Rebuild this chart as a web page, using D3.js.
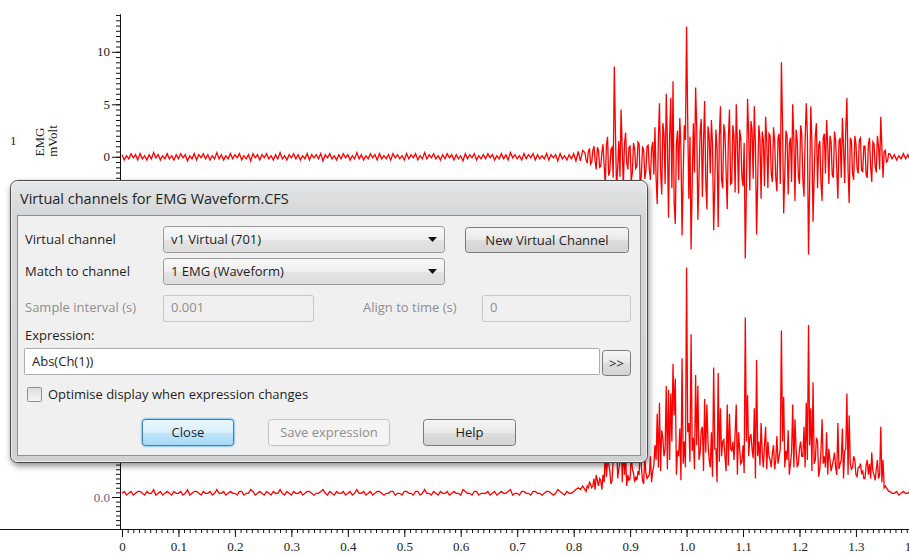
<!DOCTYPE html>
<html>
<head>
<meta charset="utf-8">
<script src="https://cdnjs.cloudflare.com/ajax/libs/d3/7.8.5/d3.min.js"></script>
<style>
  body { margin: 0; background: #ffffff; }
  svg { display: block; }
  .ui { font-family: 'Open Sans', 'Noto Sans', sans-serif; font-size: 13px; fill: #1e1e1e; }
  .ui.off { fill: #8e8e8e; }
</style>
</head>
<body>
<svg width="909" height="556"></svg>
<script>
//Global variables
const SVG_WIDTH = 909;
const SVG_HEIGHT = 556;

//channel 1 EMG, mV
//quiet part: one value every 4 ms from 0 s
var emgBaseline = [
  0.2,-0.3,0.1,-0.2,0.3,-0.1,0.2,-0.3,0.3,-0.2,0.1,-0.3,0.2,-0.2,0.4,-0.1,0.2,-0.3,0.1,-0.2,
  0.3,-0.2,0.1,-0.3,0.2,-0.2,0.3,-0.1,0.2,-0.4,0.1,-0.2,0.3,-0.3,0.2,-0.1,0.3,-0.2,0.2,-0.3,
  0.1,-0.2,0.4,-0.2,0.2,-0.3,0.1,-0.2,0.3,-0.2,0.2,-0.1,0.3,-0.3,0.1,-0.2,0.2,-0.4,0.3,-0.1,
  0.2,-0.3,0.2,-0.1,0.3,-0.2,0.1,-0.3,0.2,-0.2,0.4,-0.2,0.1,-0.3,0.2,-0.1,0.3,-0.2,0.2,-0.3,
  0.1,-0.2,0.3,-0.3,0.2,-0.1,0.2,-0.2,0.3,-0.4,0.2,-0.1,0.3,-0.2,0.1,-0.3,0.2,-0.2,0.3,-0.1,
  0.2,-0.3,0.1,-0.2,0.4,-0.2,0.2,-0.3,0.1,-0.2,0.3,-0.1,0.2,-0.3,0.3,-0.2,0.1,-0.2,0.2,-0.3,
  0.3,-0.1,0.2,-0.2,0.1,-0.3,0.3,-0.2,0.2,-0.1,0.3,-0.3,0.1,-0.2,0.4,-0.2,0.2,-0.1,0.3,-0.2,
  0.1,-0.3,0.2,-0.2,0.3,-0.1,0.2,-0.3,0.2,-0.2,0.1,-0.4,0.3,-0.2,0.2,-0.1,0.3,-0.3,0.1,-0.2,
  0.2,-0.2,0.3,-0.1,0.2,-0.3,0.1,-0.2,0.3,-0.2,0.2,-0.3,0.4,-0.1,0.2,-0.2,0.1,-0.3,0.3,-0.2,
  0.2,-0.1,0.3,-0.3,0.2,-0.2,0.1,-0.2,0.3,-0.3,0.2,-0.1,0.2,-0.4,0.3,-0.2,0.1,-0.3,0.2,-0.2,
  0.3,-0.4,0.5,-0.4,0.6
];
//the burst: one value every 2 ms from 0.820 s
var emgBurst = [
  0.4,-0.3,-0.6,0.5,0.8,-0.7,-0.5,0.6,1.0,-0.4,-1.2,0.9,0.6,-1.0,-0.9,0.4,1.2,-0.8,-2.6,1.1,
  1.9,-1.8,-1.4,0.7,0.9,-2.0,8.6,2.4,-3.2,-1.0,1.5,-1.9,4.5,0.8,-2.8,1.2,2.3,-0.6,-1.2,0.9,
  1.0,-2.3,-1.5,1.3,0.8,-1.1,-0.9,1.4,1.2,-3.0,-1.6,0.9,0.7,-2.1,-1.3,1.0,1.1,-1.2,-2.2,0.8,
  1.4,-1.7,2.8,-2.0,-4.5,1.6,5.1,-1.4,-3.6,3.2,2.2,-2.6,6.0,1.5,-5.8,2.0,5.6,-3.0,7.2,-4.4,
  -6.4,1.2,2.5,-2.2,3.7,0.9,-7.5,-1.8,3.0,1.6,12.4,3.5,-4.0,1.9,-8.8,-2.5,3.2,-1.5,6.6,2.8,
  -6.0,-2.0,2.4,3.6,-3.8,1.4,5.3,-2.4,-5.0,2.9,2.0,-1.6,3.5,1.1,-7.0,-2.6,2.6,0.8,-6.7,1.9,
  4.8,-2.2,-3.0,3.1,2.2,-1.4,-5.0,1.7,4.5,-2.6,-2.5,3.0,2.0,-3.4,5.0,1.2,-3.5,2.6,1.8,-1.9,
  -2.8,1.3,-9.7,-3.0,5.5,2.2,-3.2,3.4,2.6,-2.1,4.8,1.0,-7.4,-2.2,3.0,1.7,-4.0,2.4,1.6,-2.8,
  3.8,1.5,-3.0,2.2,2.0,-1.6,-2.4,2.8,1.5,-2.0,-3.3,1.8,2.2,-2.6,9.0,3.0,-5.4,-1.6,2.5,2.0,
  -3.6,1.2,1.8,-2.4,5.0,1.6,-4.2,2.6,1.6,-1.8,-2.6,3.0,2.2,-2.2,-3.8,1.6,5.1,2.0,-9.3,-2.8,
  4.8,1.4,-6.2,-1.8,2.0,3.2,-3.0,1.1,1.5,-2.4,-4.2,1.8,2.2,-1.6,3.5,1.2,-2.6,2.0,1.4,-1.7,
  -2.0,2.4,1.6,-1.2,-4.0,1.5,1.8,-2.0,3.7,1.0,-2.5,2.6,5.6,-1.2,-4.4,1.8,1.5,-1.6,-2.2,2.0,
  1.2,-1.1,-1.6,1.6,1.8,-1.3,-1.4,1.0,1.0,-1.7,-2.0,1.2,1.8,-1.0,-2.4,1.4,1.2,-0.9,-1.5,2.0,
  1.0,-1.2,3.8,0.8,-2.0,0.5,0.6,-0.5,-0.4,0.3
];
//quiet again: one value every 4 ms from 1.360 s
var emgTail = [0.3,-0.2,0.2,-0.3,0.1,-0.2,0.3,-0.2,0.2,-0.3,0.2];

//start time and step of each stretch
var emgStarts = [0, 0.820, 1.360];
var emgSteps = [0.004, 0.002, 0.004];

//tick labels
var timeTicks = [0, 0.1, 0.2, 0.3, 0.4, 0.5, 0.6, 0.7, 0.8, 0.9, 1.0, 1.1, 1.2, 1.3, 1.4];
var emgTicks = [0, 5, 10];
var virtualTicks = [0];

//build (time, value) samples
var emg = [];
[emgBaseline, emgBurst, emgTail].forEach(function(part, p) {
    part.forEach(function(v, k) {
        emg.push({t: emgStarts[p] + k * emgSteps[p], v: v});
    });
});
//virtual channel 701 = Abs(Ch(1)), the expression typed in the dialog
var virtual701 = emg.map(function(d) { return {t: d.t, v: Math.abs(d.v)}; });

var svg = d3.select('svg');

//scales
var x = d3.scaleLinear().domain([0, 1.4]).range([122, 912.4]);
var yTop = d3.scaleLinear().domain([-10.5, 13.6]).range([267, 14]);
var yBottom = d3.scaleLinear().domain([-1.73, 12.81]).range([529, 260]);

//axes
function styleAxis(g) {
    g.attr('font-family', "'Liberation Serif', 'Times New Roman', serif")
     .attr('font-size', 13);
    g.selectAll('path, line').attr('stroke', '#111');
    g.selectAll('text').attr('fill', '#222');
}

//minor ticks first, then the labelled ones on top
svg.append('g')
   .attr('transform', 'translate(120,0)')
   .call(d3.axisLeft(yTop).tickValues(d3.range(-10, 13.6, 0.5)).tickSize(4).tickSizeOuter(0).tickFormat(''))
   .call(styleAxis);
svg.append('g')
   .attr('transform', 'translate(120,0)')
   .call(d3.axisLeft(yTop).tickValues(emgTicks).tickSize(8).tickSizeOuter(0).tickPadding(2).tickFormat(d3.format('d')))
   .call(styleAxis);

svg.append('g')
   .attr('transform', 'translate(120,0)')
   .call(d3.axisLeft(yBottom).tickValues(d3.range(-1.5, 12.8, 0.25)).tickSize(4).tickSizeOuter(0).tickFormat(''))
   .call(styleAxis);
svg.append('g')
   .attr('transform', 'translate(120,0)')
   .call(d3.axisLeft(yBottom).tickValues(virtualTicks).tickSize(8).tickSizeOuter(0).tickPadding(2).tickFormat(d3.format('.1f')))
   .call(styleAxis)
   .selectAll('text').attr('fill', '#5b6678');

svg.append('g')
   .attr('transform', 'translate(0,529)')
   .call(d3.axisBottom(x).tickValues(d3.range(0, 1.405, 0.01)).tickSize(4).tickSizeOuter(0).tickFormat(''))
   .call(styleAxis)
   .select('.domain').attr('d', 'M-2,0.5H' + SVG_WIDTH);
svg.append('g')
   .attr('transform', 'translate(0,529)')
   .call(d3.axisBottom(x).tickValues(timeTicks).tickSize(8).tickSizeOuter(0).tickPadding(5)
           .tickFormat(function(d) { return d === 0 ? '0' : d3.format('.1f')(d); }))
   .call(styleAxis);

//channel titles
svg.append('text')
   .attr('x', 10).attr('y', 145)
   .attr('font-family', "'Liberation Serif', serif").attr('font-size', 13).attr('fill', '#222')
   .text('1');
svg.append('text')
   .attr('transform', 'translate(44,142) rotate(-90)')
   .attr('text-anchor', 'middle')
   .attr('font-family', "'Liberation Serif', serif").attr('font-size', 13).attr('fill', '#222')
   .text('EMG');
svg.append('text')
   .attr('transform', 'translate(57,141) rotate(-90)')
   .attr('text-anchor', 'middle')
   .attr('font-family', "'Liberation Serif', serif").attr('font-size', 13).attr('fill', '#222')
   .text('mVolt');

//the traces
var topLine = d3.line()
    .x(function(d) { return x(d.t); })
    .y(function(d) { return yTop(d.v); });
var bottomLine = d3.line()
    .x(function(d) { return x(d.t); })
    .y(function(d) { return yBottom(d.v); });

svg.append('path')
   .attr('d', topLine(emg))
   .attr('fill', 'none').attr('stroke', '#ff0000').attr('stroke-width', 1.3);
svg.append('path')
   .attr('d', bottomLine(virtual701))
   .attr('fill', 'none').attr('stroke', '#ff0000').attr('stroke-width', 1.3);

//----- the dialog on top -----
var defs = svg.append('defs');
function vGrad(id, stops) {
    var g = defs.append('linearGradient').attr('id', id)
                .attr('x1', 0).attr('y1', 0).attr('x2', 0).attr('y2', 1);
    stops.forEach(function(s) {
        g.append('stop').attr('offset', s[0]).attr('stop-color', s[1]);
    });
}
vGrad('frameGrad', [[0, '#e6e7e9'], [0.12, '#d4d6d8'], [1, '#d0d1d3']]);
vGrad('btnGrad', [[0, '#f6f6f6'], [0.5, '#e9e9e9'], [0.51, '#dddddd'], [1, '#d3d3d3']]);
vGrad('comboGrad', [[0, '#f8f8f8'], [0.5, '#efefef'], [0.51, '#e4e4e4'], [1, '#dcdcdc']]);
vGrad('closeGrad', [[0, '#eaf6fd'], [0.5, '#d9f0fc'], [0.51, '#bee6fd'], [1, '#a7d9f5']]);
vGrad('checkGrad', [[0, '#dcdcdc'], [1, '#f6f6f6']]);

var shadow = defs.append('filter').attr('id', 'shadow')
    .attr('x', '-5%').attr('y', '-5%').attr('width', '115%').attr('height', '120%');
shadow.append('feDropShadow')
    .attr('dx', 1).attr('dy', 3).attr('stdDeviation', 3)
    .attr('flood-color', '#000').attr('flood-opacity', 0.45);

var dlg = svg.append('g');

dlg.append('rect')
   .attr('x', 10.5).attr('y', 180.5).attr('width', 637).attr('height', 282).attr('rx', 7)
   .attr('fill', 'url(#frameGrad)').attr('stroke', '#4a4a4a').attr('filter', 'url(#shadow)');
dlg.append('rect')
   .attr('x', 11.5).attr('y', 181.5).attr('width', 635).attr('height', 280).attr('rx', 6)
   .attr('fill', 'none').attr('stroke', '#f4f4f4').attr('stroke-opacity', 0.8);
dlg.append('rect')
   .attr('x', 17.5).attr('y', 215.5).attr('width', 623).attr('height', 240)
   .attr('fill', '#f0f0f0').attr('stroke', '#8e8f91');

dlg.append('text').attr('class', 'ui')
   .attr('x', 20).attr('y', 204).style('font-size', '14.5px').attr('fill', '#1a1a1a')
   .text('Virtual channels for EMG Waveform.CFS');

function label(txt, lx, ly, disabled) {
    dlg.append('text').attr('class', disabled ? 'ui off' : 'ui')
       .attr('x', lx).attr('y', ly).text(txt);
}
function box(bx, by, bw, bh, fill, stroke, rx) {
    return dlg.append('rect')
       .attr('x', bx + 0.5).attr('y', by + 0.5).attr('width', bw).attr('height', bh)
       .attr('rx', rx).attr('fill', fill).attr('stroke', stroke);
}
function button(txt, bx, by, bw, bh, fill, stroke, disabled) {
    box(bx, by, bw, bh, fill, stroke, 3);
    dlg.append('text').attr('class', disabled ? 'ui off' : 'ui')
       .attr('x', bx + bw / 2 + 0.5).attr('y', by + bh / 2 + 5)
       .attr('text-anchor', 'middle').text(txt);
}
function combo(txt, by) {
    box(163, by, 281, 26, 'url(#comboGrad)', '#9a9a9a', 3);
    label(txt, 171, by + 18);
    dlg.append('path')
       .attr('d', 'M428,' + (by + 11) + 'h9l-4.5,5z')
       .attr('fill', '#111');
}

label('Virtual channel', 25, 244);
combo('v1 Virtual (701)', 226);
button('New Virtual Channel', 465, 227, 163, 25, 'url(#btnGrad)', '#7a7a7a');

label('Match to channel', 25, 276);
combo('1 EMG (Waveform)', 258);

label('Sample interval (s)', 25, 312, true);
box(163, 295, 150, 26, '#f0f0f0', '#c6c6c6', 2);
label('0.001', 171, 312, true);
label('Align to time (s)', 363, 312, true);
box(482, 295, 148, 26, '#f0f0f0', '#c6c6c6', 2);
label('0', 490, 312, true);

label('Expression:', 25, 340);
box(24, 348, 575, 26, '#ffffff', '#abadb3', 1);
label('Abs(Ch(1))', 32, 366);
button('>>', 602, 350, 28, 25, 'url(#btnGrad)', '#7a7a7a');

box(27, 387, 14, 14, 'url(#checkGrad)', '#8f8f8f', 1);
label('Optimise display when expression changes', 48, 399);

box(141, 418, 93, 28, 'none', '#9fd2f5', 4).attr('stroke-width', 1.5);
button('Close', 142, 419, 91, 26, 'url(#closeGrad)', '#3c7fb1');
button('Save expression', 268, 419, 121, 26, '#f4f4f4', '#bfc2c5', true);
button('Help', 423, 419, 92, 26, 'url(#btnGrad)', '#7a7a7a');
</script>
</body>
</html>
